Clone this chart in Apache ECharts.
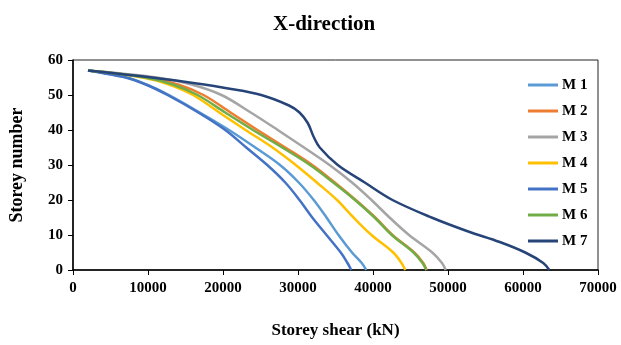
<!DOCTYPE html>
<html>
<head>
<meta charset="utf-8">
<script src="https://cdn.jsdelivr.net/npm/echarts@6/dist/echarts.min.js"></script>
<style>html,body{margin:0;padding:0;background:#fff}#c{width:621px;height:345px}</style>
</head>
<body>
<div id="c"></div>
<script>
const seriesNames = ['M 1', 'M 2', 'M 3', 'M 4', 'M 5', 'M 6', 'M 7'];
const storeys = [0, 2, 5, 10, 15, 20, 25, 30, 35, 40, 45, 50, 53, 55, 57];
const storeysM7 = [0, 2, 5, 8, 11, 15, 20, 25, 30, 35, 38, 42, 45, 47, 50, 52, 53, 55, 57];

const m1 = [39100, 38500, 37200, 35400, 33800, 32100, 30100, 27600, 24300, 20800, 16900, 12800, 9800, 7200, 2000];
const m2 = [47150, 46700, 45500, 42600, 40300, 37700, 34900, 31900, 28300, 24600, 21000, 17400, 14000, 10000, 2000];
const m3 = [49700, 49200, 47900, 44800, 42200, 39800, 37200, 34200, 30800, 27300, 23700, 19800, 15800, 11200, 2000];
const m4 = [44300, 43800, 42700, 39800, 37400, 35200, 32500, 29700, 26600, 23000, 19500, 16000, 12800, 9300, 2000];
const m5 = [37100, 36600, 35700, 33800, 31900, 30200, 28300, 25900, 23100, 20300, 16700, 12600, 9700, 7000, 2000];
const m6 = [47100, 46600, 45400, 42500, 40200, 37600, 34700, 31600, 27900, 24000, 20300, 16600, 13300, 9600, 2000];
const m7 = [63500, 62700, 60300, 56900, 52700, 47800, 42600, 38900, 35300, 32900, 32100, 31300, 30200, 28800, 25100, 20300, 17500, 10500, 2000];

const colors = ['#5B9BD5', '#ED7D31', '#A5A5A5', '#FFC000', '#4472C4', '#70AD47', '#264478'];
const values = [m1, m2, m3, m4, m5, m6, m7];

const font = 'Liberation Serif, Times New Roman, serif';

const chart = echarts.init(document.getElementById('c'));
chart.setOption({
  animation: false,
  backgroundColor: '#fff',
  title: {
    text: 'X-direction',
    left: 268, top: 9,
    textStyle: { fontFamily: font, fontWeight: 'bold', fontSize: 21, color: '#000' }
  },
  grid: {
    left: 73, right: 23, top: 60, bottom: 75,
    show: true, borderColor: '#222', borderWidth: 1
  },
  legend: {
    orient: 'vertical',
    left: 523, top: 67,
    itemWidth: 30, itemHeight: 3, itemGap: 0,
    icon: 'rect',
    textStyle: { fontFamily: font, fontWeight: 'bold', fontSize: 15, color: '#000', lineHeight: 26, padding: [0, 0, 0, -1] },
    data: seriesNames
  },
  xAxis: {
    type: 'value', min: 0, max: 70000, interval: 10000,
    name: 'Storey shear (kN)', nameLocation: 'middle', nameGap: 52,
    nameTextStyle: { fontFamily: font, fontWeight: 'bold', fontSize: 17, color: '#000' },
    axisLine: { show: true, lineStyle: { color: '#000', width: 1.5 } },
    axisTick: { show: true, length: 5, lineStyle: { color: '#000' } },
    axisLabel: { fontFamily: font, fontWeight: 'bold', fontSize: 15, color: '#000', margin: 11, formatter: v => String(v) },
    splitLine: { show: false }
  },
  yAxis: {
    type: 'value', min: 0, max: 60, interval: 10,
    name: 'Storey number', nameLocation: 'middle', nameGap: 47, nameRotate: 90,
    nameTextStyle: { fontFamily: font, fontWeight: 'bold', fontSize: 18, color: '#000' },
    axisLine: { show: true, lineStyle: { color: '#000', width: 1.5 } },
    axisTick: { show: true, length: 5, lineStyle: { color: '#000' } },
    axisLabel: { fontFamily: font, fontWeight: 'bold', fontSize: 15, color: '#000', margin: 10 },
    splitLine: { show: false }
  },
  series: seriesNames.map((n, i) => {
    const ys = i === 6 ? storeysM7 : storeys;
    return {
      name: n, type: 'line',
      data: values[i].map((v, j) => [v, ys[j]]),
      showSymbol: false, symbol: 'none',
      smooth: 0.35,
      lineStyle: { color: colors[i], width: 2.5 },
      itemStyle: { color: colors[i] },
      z: i === 6 ? 3 : 2
    };
  })
});
</script>
</body>
</html>
